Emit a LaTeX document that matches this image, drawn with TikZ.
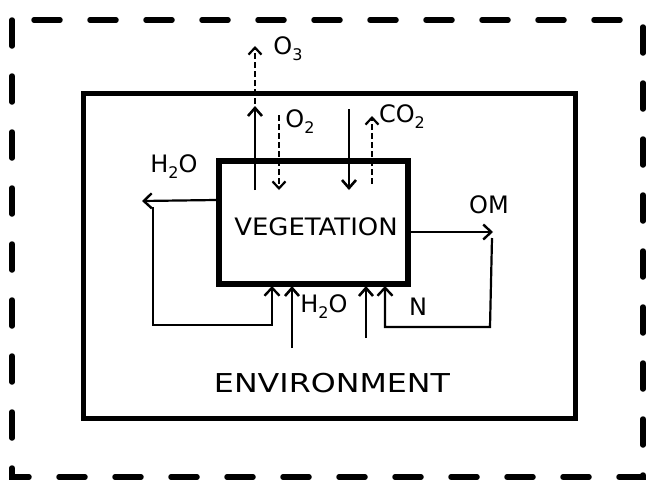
\documentclass[tikz,border=0pt]{standalone}
\usepackage{fontspec}
\usetikzlibrary{arrows.meta}
\newfontfamily\hand{DejaVu Sans}
\newcommand\lowsub[1]{\raisebox{-0.45ex}{\fontsize{16}{16}\selectfont #1}}
\tikzset{
  px/.style={x=1pt,y=-1pt},
  outerline/.style={line width=5.5pt,line cap=round,dash pattern=on 26pt off 30pt},
  envbox/.style={draw,line width=5pt,minimum width=492pt,minimum height=325pt,inner sep=0pt},
  vegbox/.style={draw,line width=6pt,minimum width=189pt,minimum height=123pt,inner sep=0pt},
  flow/.style={line width=2.8pt,-{Straight Barb[length=8pt,width=14pt,line width=2.6pt]}},
  dflow/.style={line width=2.2pt,dash pattern=on 6pt off 3pt,-{Straight Barb[length=7pt,width=13pt,line width=2.2pt]}},
  thin/.style={line width=2.2pt,-{Straight Barb[length=8pt,width=15pt,line width=2.4pt]}},
  lab/.style={font=\hand\fontsize{24}{24}\selectfont,inner sep=0pt},
  big/.style={font=\hand\fontsize{24}{24}\selectfont,inner sep=0pt},
}
\begin{document}
\begin{tikzpicture}[px]
\useasboundingbox (0,0) rectangle (653,496);
\fill[white] (0,0) rectangle (653,496);
% outer dashed boundary
\draw[outerline] (12,20) rectangle (643,477);
% boxes
\node[envbox] (env) at (329,255.5) {};
\node[vegbox] (veg) at (313.5,222.5) {};
\node[big] (vegtxt) at (316,227) {\scalebox{1.08}[1]{VEGETATION}};
\node[font=\hand\fontsize{26}{26}\selectfont,inner sep=0pt] (envtxt) at (332,383) {\scalebox{1.22}[1]{ENVIRONMENT}};
% coordinates
\coordinate (o3s) at (255,104);
\coordinate (o3e) at (255,46);
\coordinate (upS) at (255,190);
\coordinate (upE) at (255,106);
\coordinate (o2s) at (279,115);
\coordinate (o2e) at (279,190);
\coordinate (co2ds) at (349,109);
\coordinate (co2de) at (349,190);
\coordinate (co2us) at (372,184);
\coordinate (co2ue) at (372,116);
\coordinate (h2oL) at (142,201);
\coordinate (lA) at (153,207);
\coordinate (lB) at (153,325);
\coordinate (lC) at (272,325);
\coordinate (lD) at (272,286);
\coordinate (w1s) at (292,348);
\coordinate (w1e) at (292,286);
\coordinate (w2s) at (366,338);
\coordinate (w2e) at (366,286);
\coordinate (rA) at (492,238);
\coordinate (rB) at (490,327);
\coordinate (rC) at (385,327);
\coordinate (rD) at (385,286);
\coordinate (omE) at (493,232);
% top exchanges
\draw[dflow] (o3s) -- (o3e);
\draw[flow] (upS) -- (upE);
\draw[dflow] (o2s) -- (o2e);
\draw[flow] (co2ds) -- (co2de);
\draw[dflow] (co2us) -- (co2ue);
% H2O out left
\draw[thin] (veg.west |- 0,200) -- (h2oL);
\draw[thin] (lA) -- (lB) -- (lC) -- (lD);
% bottom inputs
\draw[flow] (w1s) -- (w1e);
\draw[flow] (w2s) -- (w2e);
\draw[thin] (rA) -- (rB) -- (rC) -- (rD);
% OM out
\draw[thin] (veg.east |- 0,232) -- (omE);
% labels
\node[lab] (lo3) at (288,49) {O\lowsub{3}};
\node[lab] (lo2) at (300,122) {O\lowsub{2}};
\node[lab] (lco2) at (402,117) {CO\lowsub{2}};
\node[lab] (lh2o) at (174,167) {H\lowsub{2}O};
\node[lab] (lom) at (489,205) {OM};
\node[lab] (lh2ob) at (324,307) {H\lowsub{2}O};
\node[lab] (ln) at (418,307) {N};
\end{tikzpicture}
\end{document}
